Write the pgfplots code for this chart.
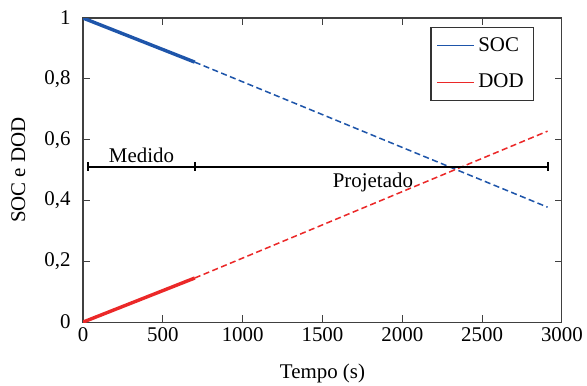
\documentclass[border=0pt]{standalone}
\usepackage{fontspec}
\setmainfont{Liberation Serif}
\usepackage{pgfplots}
\pgfplotsset{compat=1.18}
\definecolor{socblue}{RGB}{30,85,170}
\definecolor{dodred}{RGB}{235,40,40}
\newcommand{\fs}{\fontsize{11}{13}\selectfont}
\begin{document}
\begin{tikzpicture}[font=\fs]
\begin{axis}[
  scale only axis,
  width=252pt, height=160pt,
  xmin=0, xmax=3000, ymin=0, ymax=1,
  xtick={0,500,...,3000},
  ytick={0,0.2,0.4,0.6,0.8,1},
  /pgf/number format/use comma,
  /pgf/number format/1000 sep={},
  /pgf/number format/assume math mode=true,
  tick label style={font=\fs},
  xticklabel style={yshift=0.5pt},
  yticklabel style={xshift=-3pt},
  label style={font=\fs},
  axis line style={black!75, line width=0.6pt},
  tick style={black!75, line width=0.6pt},
  major tick length=3.5pt,
  xlabel={Tempo (s)},
  ylabel={SOC e DOD},
  xlabel style={at={(axis description cs:0.5,-0.184)}, anchor=base},
  ylabel style={at={(axis description cs:-0.135,0.5)}, anchor=center},
  legend style={at={(0.9415,0.97)}, anchor=north east, draw=black!80, line width=0.6pt, font=\fs, row sep=6.5pt, inner xsep=3.1pt, inner ysep=3pt, nodes={inner xsep=2pt}},
  legend image code/.code={\draw[#1] (0cm,0cm) -- (0.68cm,0cm);},
  legend cell align=left,
]
\addlegendimage{socblue, line width=0.5pt}
\addlegendentry{SOC}
\addlegendimage{dodred, line width=0.5pt}
\addlegendentry{DOD}
\addplot[socblue, line width=1.8pt, forget plot] coordinates {(0,1) (700,0.855)};
\addplot[socblue, line width=0.8pt, dash pattern=on 3.2pt off 1.8pt, forget plot] coordinates {(700,0.855) (2910,0.378)};
\addplot[dodred, line width=1.8pt, forget plot] coordinates {(0,0) (700,0.145)};
\addplot[dodred, line width=0.8pt, dash pattern=on 3.2pt off 1.8pt, forget plot] coordinates {(700,0.145) (2910,0.628)};
\addplot[black, line width=1pt, mark=|, mark size=2.5pt, mark options={solid, line width=1pt}, forget plot] coordinates {(30,0.511) (700,0.511) (2910,0.511)};
\node at (axis cs:366,0.549) {Medido};
\node at (axis cs:1816,0.46) {Projetado};
\end{axis}
\pgfresetboundingbox
\useasboundingbox ([xshift=-43.7pt,yshift=-33.2pt]current axis.south west) rectangle ([xshift=13.2pt,yshift=9.5pt]current axis.north east);
\end{tikzpicture}
\end{document}
